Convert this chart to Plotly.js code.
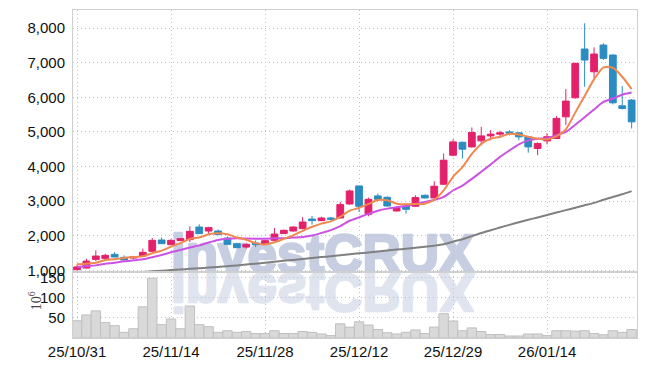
<!DOCTYPE html>
<html>
<head>
<meta charset="utf-8">
<script src="https://cdn.plot.ly/plotly-3.0.1.min.js"></script>
<style>
html,body{margin:0;padding:0;background:#fff;}
#chart{width:647px;height:366px;}
</style>
</head>
<body>
<div id="chart"></div>
<script>
var dates = ['25/10/31','25/11/03','25/11/04','25/11/05','25/11/06','25/11/07','25/11/10','25/11/11','25/11/12','25/11/13',
'25/11/14','25/11/17','25/11/18','25/11/19','25/11/20','25/11/21','25/11/24','25/11/25','25/11/26','25/11/27',
'25/11/28','25/12/01','25/12/02','25/12/03','25/12/04','25/12/05','25/12/08','25/12/09','25/12/10','25/12/11',
'25/12/12','25/12/15','25/12/16','25/12/17','25/12/18','25/12/19','25/12/22','25/12/23','25/12/24','25/12/26',
'25/12/29','25/12/30','26/01/02','26/01/05','26/01/06','26/01/07','26/01/08','26/01/09','26/01/12','26/01/13',
'26/01/14','26/01/15','26/01/16','26/01/19','26/01/20','26/01/21','26/01/22','26/01/23','26/01/26','26/01/27'];

var openP = [1020,1067,1318,1347,1463,1376,1356,1414,1550,1877,
1743,1859,1888,2253,2137,2137,1934,1772,1675,1790,
1752,1868,2062,2137,2206,2484,2437,2513,2513,2918,
3439,2620,3150,3112,2716,2860,2852,3170,3092,3488,
4327,4700,4567,4741,4885,4935,5000,4972,4857,4520,
4740,4810,5435,5985,7394,6737,7509,7220,5753,5918];
var highP = [1170,1338,1579,1483,1530,1434,1420,1628,1935,1955,
1900,1940,2273,2331,2260,2180,1983,1800,1770,1868,
1880,2224,2180,2270,2542,2571,2550,2540,2976,3335,
3440,3103,3219,3141,2850,2870,3170,3190,3575,4376,
4790,4720,5128,5146,5050,5030,5050,4990,4870,4700,
4960,5455,6236,7000,8137,7443,7558,7240,6323,5950];
var lowP = [1000,1060,1269,1289,1385,1298,1330,1400,1540,1772,
1730,1850,1820,2062,2062,2020,1752,1656,1628,1675,
1740,1860,2050,2120,2190,2322,2420,2440,2500,2900,
2687,2562,2996,2850,2700,2640,2840,3080,3080,3470,
4300,4231,4550,4616,4760,4850,4900,4760,4400,4327,
4640,4790,5195,5960,6303,6546,7080,5794,5650,5100];
var closeP = [1100,1269,1414,1434,1385,1298,1396,1521,1868,1772,
1868,1917,2128,2062,2235,2033,1752,1656,1752,1743,
1859,2050,2157,2253,2397,2437,2513,2475,2900,3294,
2852,3054,3054,2860,2813,2765,3103,3092,3430,4182,
4712,4500,4984,4885,4935,4972,4960,4857,4567,4665,
4860,5390,5890,6980,7075,7249,7124,5840,5678,5290];

var ma5 = [1174,1194,1222,1298,1320,1360,1385,1407,1494,1571,
1685,1789,1911,1949,2042,2075,2042,1948,1886,1787,
1752,1812,1912,2012,2143,2259,2351,2415,2544,2724,
2807,2915,3031,3023,2927,2909,2919,2927,3041,3314,
3704,3983,4362,4653,4803,4855,4947,4922,4858,4804,
4782,4868,5074,5557,6039,6517,6864,6854,6593,6236];
var ma10 = [1096,1125,1145,1194,1222,1262,1290,1320,1380,1446,
1523,1587,1659,1722,1807,1880,1916,1929,1918,1915,
1914,1927,1930,1949,1965,2006,2082,2164,2278,2434,
2533,2633,2723,2784,2825,2858,2917,2979,3032,3121,
3307,3451,3644,3847,4059,4280,4465,4642,4755,4804,
4819,4908,4998,5208,5422,5649,5866,5964,6075,6138];
var ma60 = [850,865,880,895,910,925,940,955,972,990,
1008,1026,1044,1062,1080,1100,1120,1142,1168,1195,
1222,1249,1276,1303,1330,1357,1384,1411,1438,1465,
1492,1519,1546,1573,1600,1627,1654,1683,1715,1755,
1830,1900,1990,2080,2160,2240,2315,2390,2460,2530,
2600,2670,2740,2810,2880,2950,3040,3120,3200,3290];

var volume = [42.7,57,67,38,30.5,14,23,77,147.6,33,
47,23,79,33,28,14,18,14,16,11,
11,18,11,11,16,14,10,6,35,27,
40,32,21,13,10,14,20,11,27,60,
42,18,25,16,8.5,8.5,5,5,10,10,
6,18,18,17,18,11,8,18,14,21];

var tickDates = ['25/10/31','25/11/14','25/11/28','25/12/12','25/12/29','26/01/14'];
var priceTicks = [1000,2000,3000,4000,5000,6000,7000,8000];
var volTicks = [50,100,150];

var UP = '#e3216b', DOWN = '#2b8cc2';
var tickFont = {family:'Liberation Sans Narrow, Arial Narrow, sans-serif', size:15, color:'#111'};
var gridCol = '#b9c1d8';

var data = [
  {type:'candlestick', x:dates, open:openP, high:highP, low:lowP, close:closeP,
   xaxis:'x', yaxis:'y', whiskerwidth:0,
   increasing:{line:{color:UP,width:1}, fillcolor:UP},
   decreasing:{line:{color:DOWN,width:1}, fillcolor:DOWN},
   showlegend:false, hoverinfo:'skip'},
  {type:'scatter', mode:'lines', x:dates, y:ma60, xaxis:'x', yaxis:'y',
   line:{color:'#808080', width:2, shape:'spline', smoothing:0.6}, showlegend:false, hoverinfo:'skip'},
  {type:'scatter', mode:'lines', x:dates, y:ma10, xaxis:'x', yaxis:'y',
   line:{color:'#cc52e6', width:2, shape:'spline', smoothing:0.6}, showlegend:false, hoverinfo:'skip'},
  {type:'scatter', mode:'lines', x:dates, y:ma5, xaxis:'x', yaxis:'y',
   line:{color:'#f0894f', width:2, shape:'spline', smoothing:0.6}, showlegend:false, hoverinfo:'skip'},
  {type:'bar', x:dates, y:volume, xaxis:'x2', yaxis:'y2',
   marker:{color:'#d9d9d9', line:{color:'#c0c0c0', width:1}}, showlegend:false, hoverinfo:'skip'}
];

var axisCommon = {
  showline:true, linecolor:'#d0d0d0', linewidth:1, mirror:true,
  showgrid:true, gridcolor:gridCol, gridwidth:1, griddash:'1px,3px',
  zeroline:false, ticks:'', tickfont:tickFont, fixedrange:true
};

var wmFont = {family:'Liberation Sans Narrow, Arial Narrow, sans-serif', size:53, weight:'bold'};

var layout = {
  width:647, height:366,
  margin:{l:73, r:10, t:10, b:28, pad:0},
  paper_bgcolor:'#ffffff', plot_bgcolor:'rgba(0,0,0,0)',
  showlegend:false,
  boxgap:0.28,
  boxgroupgap:0,
  bargap:0,
  xaxis: Object.assign({}, axisCommon, {
    type:'category', domain:[0,1], anchor:'y', range:[-0.43,59.57],
    tickvals:tickDates, showticklabels:false,
    rangeslider:{visible:false}
  }),
  yaxis: Object.assign({}, axisCommon, {
    domain:[0.2,1], anchor:'x', range:[942,8521],
    tickvals:priceTicks, tickformat:',d', ticklabelstandoff:4
  }),
  xaxis2: Object.assign({}, axisCommon, {
    type:'category', domain:[0,1], anchor:'y2', range:[-0.43,59.57],
    tickvals:tickDates, showticklabels:true
  }),
  yaxis2: Object.assign({}, axisCommon, {
    domain:[0,0.2], anchor:'x2', range:[0,162],
    tickvals:volTicks, ticklabelstandoff:4
  }),
  annotations:[
    {text:'investCRUX', xref:'paper', yref:'paper', x:0.443, y:0.258, xanchor:'center', yanchor:'middle',
     showarrow:false, font:Object.assign({color:'#c7cee2'}, wmFont)},
    {text:'investCRUX', xref:'paper', yref:'paper', x:0.443, y:0.14, xanchor:'center', yanchor:'middle',
     showarrow:false, font:Object.assign({color:'#e0e4ef'}, wmFont)},
    {text:'10<sup>6</sup>', xref:'paper', yref:'paper', x:-0.067, y:0.113, xanchor:'center', yanchor:'middle',
     textangle:-90, showarrow:false, font:{family:'Liberation Serif, serif', size:14, color:'#444'}}
  ]
};

var gd = document.getElementById('chart');
Plotly.newPlot(gd, data, layout, {staticPlot:true, displayModeBar:false}).then(function(){
  var paper = gd.querySelector('.main-svg');
  var below = paper.querySelector('.layer-below');
  var anns = gd.querySelectorAll('g.annotation');
  var wm = [];
  for (var i = 0; i < anns.length; i++) {
    var txt = anns[i].querySelector('text');
    if (txt && txt.textContent === 'investCRUX') wm.push(anns[i]);
  }
  wm.forEach(function(a, k){
    below.appendChild(a);
    var t = a.querySelector('text');
    var col = k === 0 ? '#c7cee2' : '#e0e4ef';
    t.style.stroke = col;
    t.style.strokeWidth = '2.5px';
    t.style.strokeLinejoin = 'round';
    if (k === 1) {
      t.style.transformBox = 'fill-box';
      t.style.transformOrigin = 'center';
      t.style.transform = 'scaleY(-1)';
    }
  });
});
</script>
</body>
</html>
